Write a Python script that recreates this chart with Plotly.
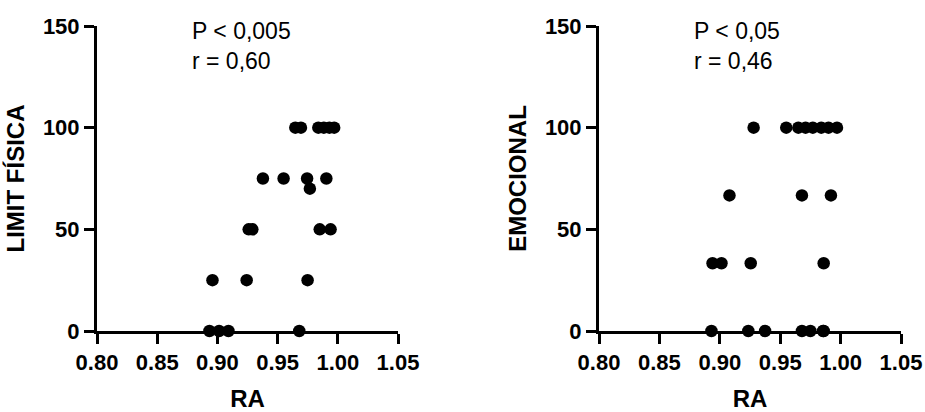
import plotly.graph_objects as go

# RA vs. SF-36 domain scores (n = 22 per panel)
ra_fisica = [0.8934, 0.9014, 0.9092, 0.968,
             0.8959, 0.9243, 0.9749,
             0.926, 0.929, 0.985, 0.994,
             0.9768,
             0.9378, 0.955, 0.9745, 0.9905,
             0.9647, 0.9694, 0.9838, 0.9884, 0.993, 0.997]
limit_fisica = [0, 0, 0, 0,
                25, 25, 25,
                50, 50, 50, 50,
                70,
                75, 75, 75, 75,
                100, 100, 100, 100, 100, 100]

ra_emocional = [0.8931, 0.9236, 0.9375, 0.968, 0.975, 0.986, 0.9855,
                0.894, 0.9014, 0.9256, 0.986,
                0.908, 0.968, 0.992,
                0.928, 0.955, 0.965, 0.971, 0.977, 0.984, 0.990, 0.997]
emocional = [0, 0, 0, 0, 0, 0, 0,
             33.3, 33.3, 33.3, 33.3,
             66.7, 66.7, 66.7,
             100, 100, 100, 100, 100, 100, 100, 100]

x_ticks = [0.80, 0.85, 0.90, 0.95, 1.00, 1.05]
x_tick_text = ["0.80", "0.85", "0.90", "0.95", "1.00", "1.05"]
y_ticks = [0, 50, 100, 150]

stats_left = ["P < 0,005", "r = 0,60"]
stats_right = ["P < 0,05", "r = 0,46"]

W, H = 925, 412
FONT = "Liberation Sans, Arial, sans-serif"

fig = go.Figure()
marker = dict(color="black", size=12.5)
fig.add_trace(go.Scatter(x=ra_fisica, y=limit_fisica, mode="markers",
                         marker=marker, cliponaxis=False, xaxis="x", yaxis="y",
                         showlegend=False))
fig.add_trace(go.Scatter(x=ra_emocional, y=emocional, mode="markers",
                         marker=marker, cliponaxis=False, xaxis="x2", yaxis="y2",
                         showlegend=False))

def xaxis(domain, anchor):
    return dict(domain=domain, anchor=anchor, range=[0.80, 1.05],
                tickvals=x_ticks, ticktext=x_tick_text, automargin=False,
                showline=True, linewidth=3, linecolor="black",
                ticks="outside", ticklen=10, tickwidth=3, tickcolor="black",
                showgrid=False, zeroline=False,
                tickfont=dict(family=FONT, size=22, color="black", weight="bold"),
                title=dict(text="RA", standoff=30,
                           font=dict(family=FONT, size=24, color="black", weight="bold")))

def yaxis(anchor, title):
    return dict(domain=[1 - 331 / H, 1 - 26 / H], anchor=anchor, range=[0, 150],
                tickvals=y_ticks, automargin=False,
                showline=True, linewidth=3, linecolor="black",
                ticks="outside", ticklen=10, tickwidth=3, tickcolor="black",
                showgrid=False, zeroline=False,
                tickfont=dict(family=FONT, size=22, color="black", weight="bold"),
                title=dict(text=title, standoff=12,
                           font=dict(family=FONT, size=24, color="black", weight="bold")))

fig.update_layout(
    width=W, height=H,
    margin=dict(l=0, r=0, t=0, b=0),
    paper_bgcolor="white", plot_bgcolor="white",
    xaxis=xaxis([97 / W, 398 / W], "y"),
    yaxis=yaxis("x", "LIMIT FÍSICA"),
    xaxis2=xaxis([599 / W, 901 / W], "y2"),
    yaxis2=yaxis("x2", "EMOCIONAL"),
)

for x_px, lines in ((190, stats_left), (692, stats_right)):
    for i, txt in enumerate(lines):
        fig.add_annotation(x=x_px / W, y=1 - (31 + 30 * i) / H, xref="paper", yref="paper",
                           text=txt, showarrow=False, xanchor="left", yanchor="middle",
                           font=dict(family=FONT, size=23, color="black"))

fig.write_html("out.html")
